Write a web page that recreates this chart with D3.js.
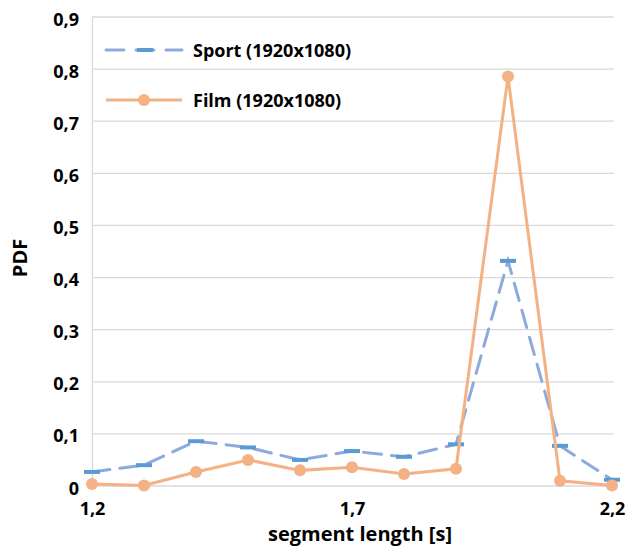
<!DOCTYPE html>
<html>
<head>
<meta charset="utf-8">
<script src="https://cdn.jsdelivr.net/npm/d3@7"></script>
<style>
  body { margin: 0; background: #fff; }
  text { font-family: "Open Sans", sans-serif; font-weight: bold; fill: #000; }
</style>
</head>
<body>
<div id="chart"></div>
<script>
// segment lengths (s)
var segLength = [1.2, 1.3, 1.4, 1.5, 1.6, 1.7, 1.8, 1.9, 2.0, 2.1, 2.2];
// PDF values
var sportPdf = [0.027, 0.040, 0.086, 0.074, 0.050, 0.067, 0.056, 0.080, 0.432, 0.077, 0.012];
var filmPdf  = [0.004, 0.001, 0.027, 0.050, 0.030, 0.036, 0.023, 0.033, 0.786, 0.010, 0.001];
var xTicks = [1.2, 1.7, 2.2];
var yTicks = [0, 0.1, 0.2, 0.3, 0.4, 0.5, 0.6, 0.7, 0.8, 0.9];
var seriesNames = ["Sport (1920x1080)", "Film (1920x1080)"];

var svgWidth = 627, svgHeight = 555;
var margin = { top: 17, right: 15, bottom: 69, left: 92 };
var width = 612 - margin.left;
var height = svgHeight - margin.top - margin.bottom;

var svg = d3.select("#chart").append("svg")
  .attr("width", svgWidth)
  .attr("height", svgHeight);

var g = svg.append("g")
  .attr("transform", `translate(${margin.left}, ${margin.top})`);

var x = d3.scaleLinear().domain([1.2, 2.2]).range([0, width]);
var y = d3.scaleLinear().domain([0, 0.9]).range([height, 0]);

var fmt = function(d) { return d === 0 ? "0" : d3.format(".1f")(d).replace(".", ","); };

// gridlines
g.append("g")
  .selectAll("line")
  .data(yTicks.slice(1))
  .enter().append("line")
  .attr("x1", 0).attr("x2", width + 2)
  .attr("y1", d => y(d)).attr("y2", d => y(d))
  .attr("stroke", "#d9d9d9").attr("stroke-width", 1.3);

// axes
var yAxis = g.append("g")
  .call(d3.axisLeft(y).tickValues(yTicks).tickSize(0).tickPadding(13).tickFormat(fmt));
yAxis.select(".domain").attr("stroke", "#d9d9d9").attr("stroke-width", 1.3);
yAxis.selectAll("text").style("font-size", "18px").attr("dy", "0.45em");

var xAxis = g.append("g")
  .attr("transform", `translate(0, ${height})`)
  .call(d3.axisBottom(x).tickValues(xTicks).tickSize(0).tickPadding(16).tickFormat(fmt));
xAxis.select(".domain").attr("stroke", "#d9d9d9").attr("stroke-width", 1.3)
  .attr("d", `M0,0H${width + 2}`);
xAxis.selectAll("text").style("font-size", "18px");

// axis titles
svg.append("text")
  .attr("x", 360).attr("y", 541)
  .attr("text-anchor", "middle")
  .style("font-size", "20px")
  .text("segment length [s]");

svg.append("text")
  .attr("transform", "translate(27, 258) rotate(-90)")
  .attr("text-anchor", "middle")
  .style("font-size", "20px")
  .text("PDF");

var sportData = segLength.map((d, i) => ({ x: d, y: sportPdf[i] }));
var filmData = segLength.map((d, i) => ({ x: d, y: filmPdf[i] }));

var line = d3.line().x(d => x(d.x)).y(d => y(d.y));

// sport series: dashed line with dash markers
g.append("path")
  .datum(sportData)
  .attr("d", line)
  .attr("fill", "none")
  .attr("stroke", "#8eaadc")
  .attr("stroke-width", 3)
  .attr("stroke-dasharray", "18,10")
  .attr("stroke-linecap", "round");

g.selectAll(".sport-mark")
  .data(sportData)
  .enter().append("rect")
  .attr("class", "sport-mark")
  .attr("x", d => x(d.x) - 8)
  .attr("y", d => y(d.y) - 2)
  .attr("width", 16).attr("height", 4)
  .attr("fill", "#5b9bd5");

// film series: solid line with circle markers
g.append("path")
  .datum(filmData)
  .attr("d", line)
  .attr("fill", "none")
  .attr("stroke", "#f4b183")
  .attr("stroke-width", 3);

g.selectAll(".film-mark")
  .data(filmData)
  .enter().append("circle")
  .attr("class", "film-mark")
  .attr("cx", d => x(d.x))
  .attr("cy", d => y(d.y))
  .attr("r", 6)
  .attr("fill", "#f4b183");

// legend
var legend = svg.append("g");
legend.append("line")
  .attr("x1", 106).attr("x2", 182).attr("y1", 50).attr("y2", 50)
  .attr("stroke", "#8eaadc").attr("stroke-width", 3)
  .attr("stroke-dasharray", "18,12").attr("stroke-linecap", "round");
legend.append("rect")
  .attr("x", 137).attr("y", 48).attr("width", 16).attr("height", 4)
  .attr("fill", "#5b9bd5");
legend.append("text")
  .attr("x", 193).attr("y", 57)
  .style("font-size", "18px")
  .text(seriesNames[0]);

legend.append("line")
  .attr("x1", 106).attr("x2", 182).attr("y1", 100).attr("y2", 100)
  .attr("stroke", "#f4b183").attr("stroke-width", 3);
legend.append("circle")
  .attr("cx", 144).attr("cy", 100).attr("r", 6)
  .attr("fill", "#f4b183");
legend.append("text")
  .attr("x", 193).attr("y", 107)
  .style("font-size", "18px")
  .text(seriesNames[1]);
</script>
</body>
</html>
